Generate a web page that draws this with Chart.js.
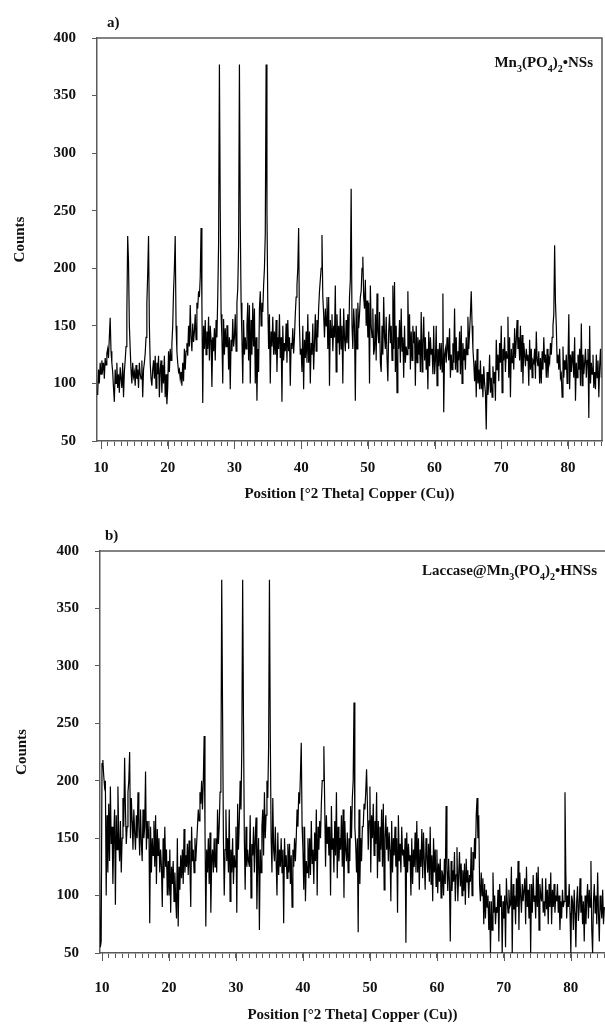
<!DOCTYPE html>
<html>
<head>
<meta charset="utf-8">
<script src="https://cdn.jsdelivr.net/npm/chart.js@4.4.1/dist/chart.umd.min.js"></script>
<style>
html, body { margin: 0; padding: 0; background: #fff; }
.panel { position: absolute; left: 0; width: 605px; }
#wrapA { top: 0; height: 510px; }
#wrapB { top: 510px; height: 518px; }
</style>
</head>
<body>
<div class="panel" id="wrapA"><canvas id="chartA"></canvas></div>
<div class="panel" id="wrapB"><canvas id="chartB"></canvas></div>
<script>
// sampling grid of both scans (deg 2theta), one row = one degree
const thetaStart = 9.5;
const thetaStep = 0.125;

// a) Mn3(PO4)2 NSs
const countsA = [
    90, 112, 100, 118,
    108, 120, 112, 118, 104, 122, 116, 126,   // 10
    130, 122, 140, 157, 128, 118, 110, 96,
    84, 112, 100, 118, 96, 108, 92, 114,
    104, 96, 118, 88, 110, 120, 132, 160,
    228, 205, 150, 130, 112, 100, 118, 106,
    110, 98, 116, 104, 112, 96, 118, 108,     // 15
    104, 120, 88, 112, 118, 126, 140, 170,
    195, 228, 150, 118, 104, 98, 112, 120,
    104, 124, 96, 118, 108, 124, 88, 112,
    120, 92, 116, 100, 124, 88, 108, 82,
    96, 128, 110, 130, 120, 134, 150, 180,    // 20
    200, 228, 150, 128, 118, 110, 112, 104,
    110, 98, 118, 102, 130, 112, 128, 135,
    124, 150, 132, 168, 140, 128, 152, 136,
    145, 160, 138, 170, 165, 180, 175, 192,
    235, 170, 83, 150, 130, 155, 125, 145,    // 25
    130, 158, 120, 150, 138, 97, 140, 128,
    148, 120, 155, 140, 175, 220, 377, 250,
    160, 140, 100, 156, 125, 148, 132, 150,
    150, 112, 140, 95, 138, 128, 156, 132,
    140, 160, 128, 170, 182, 220, 377, 240,   // 30
    170, 140, 100, 155, 125, 140, 130, 150,
    170, 120, 168, 100, 155, 125, 170, 132,
    165, 100, 140, 85, 130, 110, 165, 180,
    150, 170, 162, 185, 200, 230, 377, 250,
    170, 130, 160, 100, 145, 132, 158, 125,   // 35
    145, 125, 155, 110, 140, 130, 160, 122,
    140, 84, 150, 120, 135, 128, 152, 118,
    155, 128, 140, 98, 135, 130, 148, 126,
    140, 160, 175, 185, 200, 235, 150, 125,
    130, 110, 150, 95, 138, 122, 145, 118,    // 40
    160, 118, 145, 100, 135, 125, 152, 112,
    135, 160, 128, 155, 140, 165, 180, 190,
    200, 229, 175, 160, 140, 165, 150, 175,
    130, 175, 98, 155, 140, 160, 128, 150,
    140, 185, 110, 160, 135, 150, 125, 165,   // 45
    130, 150, 100, 165, 140, 128, 155, 135,
    160, 130, 175, 190, 269, 150, 130, 165,
    150, 85, 165, 130, 170, 148, 160, 175,
    180, 200, 210, 175, 165, 190, 150, 172,
    140, 170, 100, 185, 150, 140, 165, 125,   // 50
    130, 160, 120, 178, 145, 135, 162, 118,
    110, 150, 125, 175, 140, 130, 158, 122,
    102, 145, 160, 135, 150, 120, 185, 130,
    188, 110, 150, 92, 140, 130, 155, 118,
    165, 128, 140, 105, 150, 118, 132, 125,   // 55
    180, 130, 160, 112, 145, 120, 150, 135,
    145, 98, 150, 118, 140, 125, 138, 110,
    162, 110, 135, 158, 120, 140, 112, 130,
    95, 145, 115, 140, 125, 130, 108, 150,
    108, 120, 150, 98, 130, 115, 135, 112,    // 60
    135, 110, 178, 75, 125, 130, 118, 140,
    130, 120, 148, 105, 125, 112, 135, 118,
    165, 112, 140, 110, 128, 120, 145, 108,
    150, 100, 135, 120, 130, 112, 140, 125,
    158, 130, 145, 160, 180, 150, 130, 118,   // 65
    102, 120, 88, 130, 100, 112, 95, 120,
    95, 108, 88, 115, 100, 92, 60, 110,
    90, 100, 125, 92, 105, 88, 115, 100,
    110, 85, 138, 112, 125, 102, 135, 118,
    150, 92, 130, 120, 140, 110, 128, 122,    // 70
    158, 105, 140, 88, 130, 118, 135, 112,
    148, 122, 138, 155, 130, 140, 120, 150,
    110, 142, 100, 135, 125, 115, 130, 120,
    125, 98, 138, 112, 130, 105, 120, 118,
    130, 104, 145, 120, 115, 128, 100, 122,   // 75
    100, 128, 112, 140, 118, 125, 105, 130,
    105, 122, 118, 135, 125, 140, 150, 160,
    220, 170, 150, 118, 125, 112, 130, 105,
    108, 88, 132, 105, 120, 112, 125, 100,
    118, 160, 95, 125, 110, 128, 118, 105,    // 80
    140, 85, 118, 105, 125, 112, 130, 98,
    152, 98, 125, 108, 118, 130, 105, 120,
    130, 70, 150, 100, 118, 108, 125, 96,
    110, 95, 125, 105, 120, 88, 115, 130,
    105                                       // 85
];

// b) Laccase@Mn3(PO4)2 HNSs
const countsB = [
    150, 120, 55, 60,
    215, 218, 205, 195, 200, 100, 170, 120,   // 10
    180, 130, 195, 145, 160, 110, 150, 175,
    92, 170, 140, 195, 150, 130, 165, 120,
    150, 185, 160, 220, 175, 145, 160, 190,
    200, 225, 150, 185, 165, 140, 175, 155,
    140, 170, 150, 190, 160, 135, 175, 145,   // 15
    130, 175, 150, 160, 208, 140, 165, 150,
    165, 76, 160, 120, 150, 135, 165, 125,
    170, 110, 158, 135, 150, 120, 140, 125,
    90, 150, 115, 160, 125, 140, 100, 130,
    100, 140, 85, 125, 110, 130, 95, 120,     // 20
    98, 80, 150, 73, 125, 105, 135, 115,
    140, 110, 158, 120, 135, 125, 145, 118,
    148, 125, 90, 160, 130, 140, 120, 150,
    130, 145, 160, 175, 165, 190, 180, 200,
    175, 200, 239, 160, 73, 140, 120, 150,    // 25
    110, 155, 85, 130, 140, 120, 150, 125,
    150, 120, 175, 145, 160, 190, 200, 375,
    260, 150, 100, 140, 175, 130, 150, 120,
    175, 95, 140, 120, 150, 110, 135, 125,
    160, 85, 180, 140, 165, 200, 175, 230,    // 30
    375, 250, 150, 105, 160, 125, 140, 130,
    125, 170, 98, 145, 135, 160, 120, 150,
    168, 88, 130, 150, 70, 140, 120, 160,
    175, 135, 190, 150, 170, 200, 185, 230,
    375, 240, 150, 120, 185, 140, 130, 160,   // 35
    130, 100, 155, 118, 140, 125, 150, 120,
    140, 76, 150, 125, 135, 115, 145, 120,
    145, 110, 135, 90, 140, 125, 150, 130,
    150, 175, 160, 190, 180, 205, 233, 160,
    140, 105, 160, 95, 130, 120, 150, 115,    // 40
    150, 118, 165, 128, 140, 110, 155, 130,
    175, 100, 160, 140, 165, 150, 180, 200,
    200, 230, 180, 125, 170, 145, 160, 135,
    160, 100, 178, 140, 150, 120, 165, 135,
    190, 115, 160, 130, 150, 140, 170, 125,   // 45
    175, 98, 165, 140, 130, 155, 120, 150,
    130, 178, 150, 185, 200, 268, 160, 145,
    120, 150, 68, 175, 110, 150, 130, 160,
    160, 180, 175, 190, 210, 180, 140, 165,
    195, 120, 170, 150, 180, 135, 165, 145,   // 50
    190, 115, 165, 130, 160, 140, 175, 125,
    180, 105, 150, 170, 140, 160, 130, 155,
    140, 95, 165, 120, 150, 135, 160, 125,
    150, 85, 170, 130, 145, 120, 160, 135,
    140, 125, 150, 59, 155, 120, 145, 130,    // 55
    135, 100, 150, 110, 140, 125, 155, 120,
    165, 120, 150, 105, 140, 125, 158, 115,
    155, 130, 105, 150, 135, 120, 145, 112,
    160, 110, 135, 95, 150, 120, 140, 108,
    140, 102, 128, 112, 132, 98, 122, 118,    // 60
    100, 132, 110, 178, 122, 104, 132, 112,
    60, 130, 104, 122, 112, 138, 95, 118,
    142, 95, 118, 138, 108, 128, 100, 122,
    104, 128, 92, 132, 112, 122, 98, 118,
    112, 142, 100, 138, 122, 150, 132, 170,   // 65
    185, 150, 170, 110, 95, 120, 100, 115,
    75, 110, 80, 105, 90, 100, 70, 95,
    50, 95, 70, 120, 85, 100, 75, 90,
    85, 105, 60, 110, 90, 100, 50, 95,
    80, 100, 55, 115, 95, 85, 105, 90,        // 70
    92, 125, 50, 110, 88, 100, 75, 115,
    90, 130, 70, 120, 100, 85, 110, 95,
    95, 115, 75, 125, 90, 105, 80, 110,
    50, 110, 85, 118, 95, 100, 80, 120,
    90, 125, 70, 110, 100, 95, 115, 85,       // 75
    95, 82, 115, 88, 105, 75, 110, 90,
    120, 75, 105, 90, 110, 85, 100, 95,
    110, 85, 100, 70, 95, 80, 105, 90,
    95, 190, 120, 80, 100, 90, 110, 85,
    50, 100, 95, 70, 105, 85, 55, 95,         // 80
    108, 78, 90, 115, 85, 100, 75, 95,
    60, 100, 75, 95, 110, 80, 105, 90,
    130, 70, 50, 95, 110, 85, 100, 75,
    120, 85, 60, 100, 90, 80, 105, 75,
    90                                        // 85
];

const yTicks = [50, 100, 150, 200, 250, 300, 350, 400];
const xMinorTicks = [];
for (let t = 10; t <= 85; t++) xMinorTicks.push(t);

const labelA = [["Mn", 0], ["3", 1], ["(PO", 0], ["4", 1], [")", 0], ["2", 1], ["\u2022NSs", 0]];
const labelB = [["Laccase@Mn", 0], ["3", 1], ["(PO", 0], ["4", 1], [")", 0], ["2", 1], ["\u2022HNSs", 0]];

const FONT = '"Liberation Serif", "Times New Roman", serif';
const INK = "#111";
const AXIS = "#5a5a5a";

function drawRich(ctx, parts, rightX, baseline, size) {
    const fontFor = (sub) => `bold ${sub ? Math.round(size * 0.68) : size}px ${FONT}`;
    let total = 0;
    parts.forEach(([t, sub]) => {
        ctx.font = fontFor(sub);
        total += ctx.measureText(t).width;
    });
    let x = rightX - total;
    ctx.textAlign = "left";
    ctx.textBaseline = "alphabetic";
    parts.forEach(([t, sub]) => {
        ctx.font = fontFor(sub);
        ctx.fillText(t, x, baseline + (sub ? size * 0.3 : 0));
        x += ctx.measureText(t).width;
    });
}

// frame lines, longer ticks at the decades, panel tag and sample name
const decorPlugin = {
    id: "decor",
    afterDraw(chart, args, opts) {
        const { ctx, chartArea } = chart;
        const xs = chart.scales.x;
        ctx.save();
        ctx.strokeStyle = AXIS;
        ctx.lineWidth = 1.5;
        ctx.beginPath();
        ctx.moveTo(chartArea.left, chartArea.top);
        ctx.lineTo(opts.boxRight ? chartArea.right : chart.width, chartArea.top);
        if (opts.boxRight) {
            ctx.lineTo(chartArea.right, chartArea.bottom);
        }
        ctx.stroke();

        ctx.lineWidth = 1;
        ctx.beginPath();
        xMinorTicks.filter(v => v % 10 === 0).forEach(v => {
            const px = Math.round(xs.getPixelForValue(v)) + 0.5;
            ctx.moveTo(px, chartArea.bottom);
            ctx.lineTo(px, chartArea.bottom + 8);
        });
        ctx.stroke();

        ctx.fillStyle = INK;
        ctx.font = `bold 15px ${FONT}`;
        ctx.textAlign = "left";
        ctx.textBaseline = "alphabetic";
        ctx.fillText(opts.tag, opts.tagX, opts.tagY);
        drawRich(ctx, opts.label, opts.labelX, opts.labelY, 15);
        ctx.restore();
    }
};

function makePanel(canvasId, counts, lay) {
    const points = counts.map((c, i) => ({ x: thetaStart + i * thetaStep, y: c }));
    const tickFont = { family: FONT, size: 15, weight: "bold" };

    return new Chart(document.getElementById(canvasId), {
        type: "line",
        data: {
            datasets: [{
                data: points,
                borderColor: "#000",
                borderWidth: 1.2,
                pointRadius: 0,
                tension: 0,
                fill: false
            }]
        },
        options: {
            responsive: true,
            maintainAspectRatio: false,
            animation: false,
            events: [],
            layout: { padding: { top: lay.padTop, right: lay.padRight, bottom: lay.padBottom, left: 0 } },
            plugins: {
                legend: { display: false },
                tooltip: { enabled: false },
                decor: lay
            },
            scales: {
                x: {
                    type: "linear",
                    min: lay.xMin,
                    max: lay.xMax,
                    afterBuildTicks: (scale) => { scale.ticks = xMinorTicks.map(v => ({ value: v })); },
                    afterFit: (scale) => {
                        scale.height = lay.xHeight;
                        scale.paddingLeft = 0;
                        scale.paddingRight = 0;
                    },
                    ticks: {
                        autoSkip: false,
                        maxRotation: 0,
                        padding: lay.xTickPad,
                        color: INK,
                        font: tickFont,
                        callback: (v) => (v % 10 === 0 ? String(v) : "")
                    },
                    grid: { drawOnChartArea: false, tickLength: 5, color: AXIS, tickWidth: 1 },
                    border: { color: AXIS, width: 1.5 },
                    title: {
                        display: true,
                        text: "Position [\u00b02 Theta] Copper (Cu))",
                        color: INK,
                        font: tickFont,
                        padding: { top: 0, bottom: 0 }
                    }
                },
                y: {
                    min: 50,
                    max: 400,
                    afterBuildTicks: (scale) => { scale.ticks = yTicks.map(v => ({ value: v })); },
                    afterFit: (scale) => {
                        scale.width = lay.axisWidth;
                        scale.paddingTop = 0;
                        scale.paddingBottom = 0;
                    },
                    ticks: { padding: lay.yTickPad, color: INK, font: tickFont },
                    grid: { drawOnChartArea: false, tickLength: 5, color: AXIS },
                    border: { color: AXIS, width: 1.5 },
                    title: {
                        display: true,
                        text: "Counts",
                        color: INK,
                        font: tickFont,
                        padding: { top: lay.yTitlePad, bottom: 0 }
                    }
                }
            }
        },
        plugins: [decorPlugin]
    });
}

makePanel("chartA", countsA, {
    xMin: 9.4, xMax: 85.1,
    padTop: 38, padRight: 3, padBottom: 7,
    axisWidth: 97, xHeight: 62, xTickPad: 13, yTickPad: 16, yTitlePad: 11,
    boxRight: true,
    tag: "a)", tagX: 107, tagY: 27,
    label: labelA, labelX: 593, labelY: 67
});

makePanel("chartB", countsB, {
    xMin: 9.7, xMax: 85.1,
    padTop: 41, padRight: 0, padBottom: 4,
    axisWidth: 100, xHeight: 71, xTickPad: 21, yTickPad: 16, yTitlePad: 13,
    boxRight: false,
    tag: "b)", tagX: 105, tagY: 30,
    label: labelB, labelX: 597, labelY: 65
});
</script>
</body>
</html>
